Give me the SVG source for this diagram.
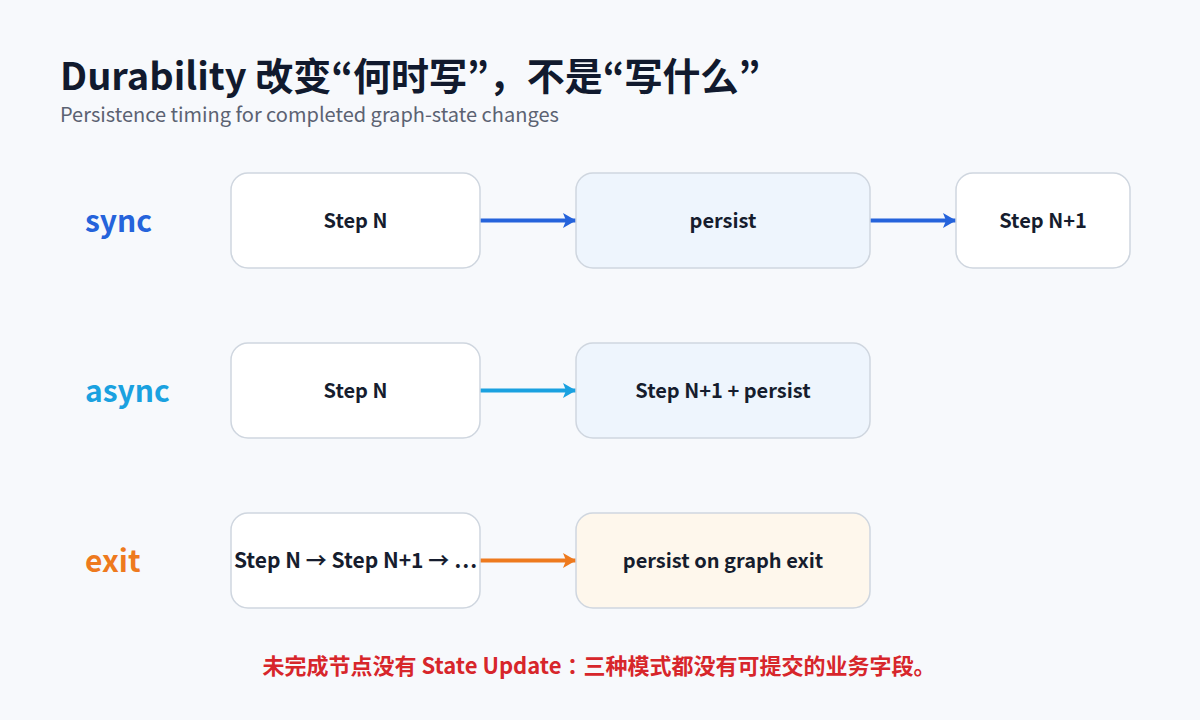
<svg xmlns="http://www.w3.org/2000/svg" width="1200" height="720" viewBox="0 0 1200 720">
<style>
text{font-family:"Noto Sans CJK SC","Noto Sans",sans-serif}
.jp{font-family:"Noto Sans CJK JP","Noto Sans CJK SC","Noto Sans",sans-serif}
.title{font-size:38px;font-weight:700;fill:#111a2e}
.sub{font-size:20px;fill:#5b6272}
.mode{font-size:30px;font-weight:700}
.node{stroke:#cfd6df;stroke-width:1.5}
.lbl{font-size:20px;font-weight:700;fill:#161d2e;text-anchor:middle}
.note{font-size:22px;font-weight:700;fill:#d7262b;text-anchor:middle}
.edge{stroke-width:4;fill:none}
</style>
<defs>
<marker id="ab" viewBox="0 0 13 15" refX="13" refY="7.5" markerWidth="13" markerHeight="15" markerUnits="userSpaceOnUse" orient="auto"><path d="M0,0 L13,7.5 L0,15 L3,7.5 Z" fill="#2563db"/></marker>
<marker id="ac" viewBox="0 0 13 15" refX="13" refY="7.5" markerWidth="13" markerHeight="15" markerUnits="userSpaceOnUse" orient="auto"><path d="M0,0 L13,7.5 L0,15 L3,7.5 Z" fill="#1aa1e0"/></marker>
<marker id="ao" viewBox="0 0 13 15" refX="13" refY="7.5" markerWidth="13" markerHeight="15" markerUnits="userSpaceOnUse" orient="auto"><path d="M0,0 L13,7.5 L0,15 L3,7.5 Z" fill="#ee7a1e"/></marker>
</defs>
<rect width="1200" height="720" fill="#f7f9fc"/>
<text class="title jp" x="60" y="90">Durability 改变“何时写”，不是“写什么”</text>
<text class="sub" x="60" y="122">Persistence timing for completed graph-state changes</text>
<text class="mode" x="85" y="232" fill="#2563db">sync</text>
<text class="mode" x="85" y="402" fill="#1aa1e0">async</text>
<text class="mode" x="85" y="572" fill="#ee7a1e">exit</text>
<g id="connectors">
<line class="edge" x1="480" y1="220.5" x2="576" y2="220.5" stroke="#2563db" marker-end="url(#ab)"/>
<line class="edge" x1="870" y1="220.5" x2="956" y2="220.5" stroke="#2563db" marker-end="url(#ab)"/>
<line class="edge" x1="480" y1="390.5" x2="576" y2="390.5" stroke="#1aa1e0" marker-end="url(#ac)"/>
<line class="edge" x1="480" y1="560.5" x2="576" y2="560.5" stroke="#ee7a1e" marker-end="url(#ao)"/>
</g>
<g id="sync-stepn"><rect class="node" x="231" y="173" width="249" height="95" rx="17" fill="#ffffff"/><text class="lbl" x="355.5" y="228">Step N</text></g>
<g id="sync-persist"><rect class="node" x="576" y="173" width="294" height="95" rx="17" fill="#eef5fd"/><text class="lbl" x="723" y="228">persist</text></g>
<g id="sync-stepn1"><rect class="node" x="956" y="173" width="174" height="95" rx="17" fill="#ffffff"/><text class="lbl" x="1043" y="228">Step N+1</text></g>
<g id="async-stepn"><rect class="node" x="231" y="343" width="249" height="95" rx="17" fill="#ffffff"/><text class="lbl" x="355.5" y="398">Step N</text></g>
<g id="async-persist"><rect class="node" x="576" y="343" width="294" height="95" rx="17" fill="#eef5fd"/><text class="lbl" x="723" y="398">Step N+1 + persist</text></g>
<g id="exit-steps"><rect class="node" x="231" y="513" width="249" height="95" rx="17" fill="#ffffff"/><text class="lbl" x="355.5" y="568" style="font-size:21px">Step N → Step N+1 → …</text></g>
<g id="exit-persist"><rect class="node" x="576" y="513" width="294" height="95" rx="17" fill="#fef7ec"/><text class="lbl" x="723" y="568">persist on graph exit</text></g>
<text class="note jp" x="599" y="674">未完成节点没有 State Update：三种模式都没有可提交的业务字段。</text>
</svg>
